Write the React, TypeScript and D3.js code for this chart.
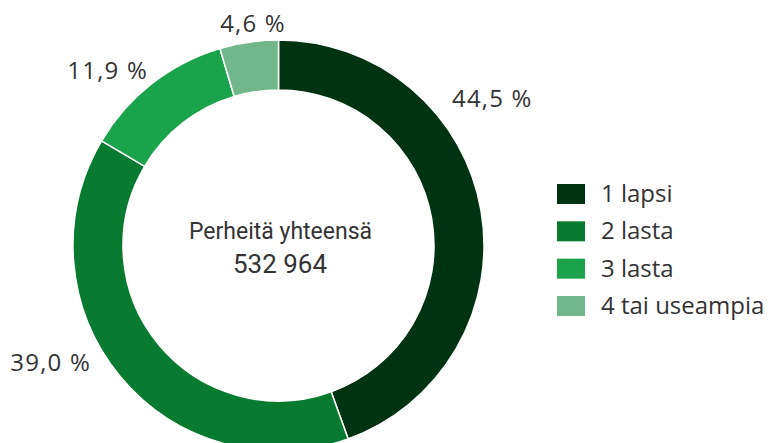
import React from "react";
import * as d3 from "d3";

const categories = ["1 lapsi", "2 lasta", "3 lasta", "4 tai useampia"];
const values = [44.5, 39.0, 11.9, 4.6];
const valueLabels = ["44,5 %", "39,0 %", "11,9 %", "4,6 %"];
const colors = ["#003311", "#087b30", "#1aa34a", "#72b78b"];
const centerLines = ["Perheitä yhteensä", "532 964"];

const W = 771;
const H = 443;
const cx = 278.5;
const cy = 245.5;
const outerR = 205.5;
const innerR = 155.5;

// label anchor positions (x, baseline y, anchor)
const labelPos: [number, number, string][] = [
  [452, 107, "start"],
  [91, 371, "end"],
  [148, 79, "end"],
  [253, 32, "middle"],
];

export default function App() {
  const pie = d3.pie<number>().sort(null).value((d) => d)(values);
  const arc = d3.arc<d3.PieArcDatum<number>>().innerRadius(innerR).outerRadius(outerR);
  const legendX = 557;
  const legendY = d3.scalePoint<string>().domain(categories).range([184, 296]);
  const font = "'Open Sans', 'DejaVu Sans', sans-serif";
  return (
    <svg
      width={W}
      height={H}
      style={{ position: "absolute", left: 0, top: 0, background: "#fff" }}
    >
      <g transform={`translate(${cx},${cy})`}>
        {pie.map((p, i) => (
          <path key={i} d={arc(p) || ""} fill={colors[i]} stroke="#fff" strokeWidth={1.5} />
        ))}
      </g>
      {valueLabels.map((t, i) => (
        <text
          key={i}
          x={labelPos[i][0]}
          y={labelPos[i][1]}
          textAnchor={labelPos[i][2] as any}
          fontFamily={font}
          fontSize={24}
          letterSpacing={1.2}
          fill="#333"
        >
          {t}
        </text>
      ))}
      <text
        x={280.5}
        y={239}
        textAnchor="middle"
        fontFamily="Roboto, sans-serif"
        fontSize={24}
        textLength={183}
        lengthAdjust="spacingAndGlyphs"
        fill="#333"
      >
        {centerLines[0]}
      </text>
      <text
        x={280}
        y={273}
        textAnchor="middle"
        fontFamily="Roboto, sans-serif"
        fontSize={25}
        textLength={94}
        lengthAdjust="spacingAndGlyphs"
        fill="#333"
      >
        {centerLines[1]}
      </text>
      {categories.map((c, i) => (
        <g key={c}>
          <rect x={legendX} y={legendY(c)!} width={28} height={20} fill={colors[i]} />
          <text x={601} y={legendY(c)! + 18} fontFamily={font} fontSize={24} fill="#333">
            {c}
          </text>
        </g>
      ))}
    </svg>
  );
}
